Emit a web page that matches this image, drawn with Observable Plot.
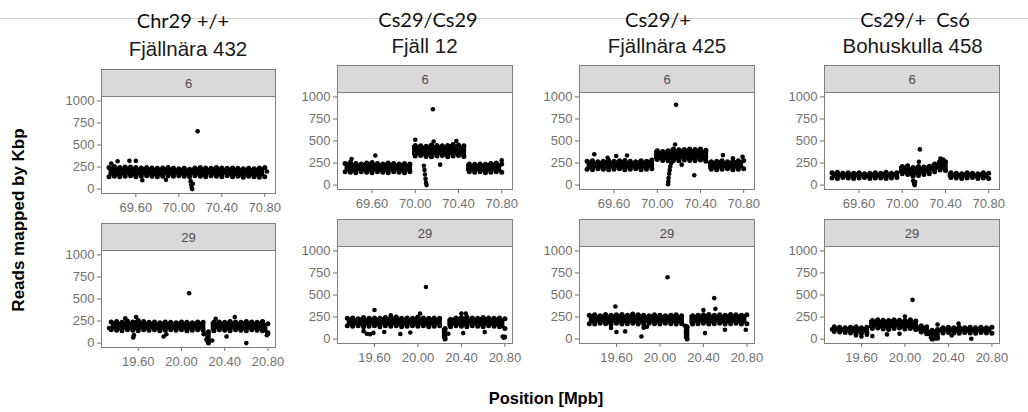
<!DOCTYPE html>
<html><head><meta charset="utf-8">
<script src="https://cdn.jsdelivr.net/npm/d3@7"></script>
<script src="https://cdn.jsdelivr.net/npm/@observablehq/plot@0.6"></script>
<style>
body{margin:0;background:#fff;}
#root{position:relative;width:1028px;height:412px;overflow:hidden;font-family:"Liberation Sans",Arial,sans-serif;background:#fff;}
.topline{position:absolute;left:0;top:18px;width:1028px;height:1px;background:#d0d0d0;}
.t1{position:absolute;font-family:Lato,"Open Sans",sans-serif;font-size:20px;line-height:20px;height:20px;text-align:center;width:240px;color:#111;white-space:pre;}
.t2{position:absolute;font-family:"Liberation Sans",Arial,sans-serif;font-size:20.5px;line-height:21px;height:21px;text-align:center;width:240px;color:#1a1a1a;white-space:pre;}
.strip{position:absolute;box-sizing:border-box;height:27px;background:#d9d9d9;border:1px solid #7f7f7f;border-bottom:none;font-size:13px;color:#4d4d4d;text-align:center;line-height:27px;}
.panel{position:absolute;}
.ylab{position:absolute;left:-111px;top:210px;width:260px;height:20px;line-height:20px;text-align:center;font-weight:bold;font-size:17px;transform:rotate(-90deg);color:#000;}
.xlab{position:absolute;left:396px;top:389px;width:300px;height:18px;line-height:18px;text-align:center;font-weight:bold;font-size:16.5px;color:#000;}
</style></head>
<body><div id="root"><div class="topline"></div></div>
<script>
// ---- data ----
const samplesLine1 = ["Chr29 +/+", "Cs29/Cs29", "Cs29/+", "Cs29/+  Cs6"];
const samplesLine2 = ["Fjällnära 432", "Fjäll 12", "Fjällnära 425", "Bohuskulla 458"];
const chromosomes = ["6", "29"];
const chr6Ticks = [69.6, 70.0, 70.4, 70.8];
const chr29Ticks = [19.6, 20.0, 20.4, 20.8];
const yTicks = [0, 250, 500, 750, 1000];

const chr6Pos = [69.35,69.40,69.45,69.50,69.55,69.60,69.65,69.70,69.75,69.80,69.85,69.90,69.95,70.00,70.05,70.10,70.15,70.20,70.25,70.30,70.35,70.40,70.45,70.50,70.55,70.60,70.65,70.70,70.75,70.80];
const chr29Pos = [19.35,19.40,19.45,19.50,19.55,19.60,19.65,19.70,19.75,19.80,19.85,19.90,19.95,20.00,20.05,20.10,20.15,20.20,20.25,20.30,20.35,20.40,20.45,20.50,20.55,20.60,20.65,20.70,20.75,20.80];

// Fjällnära 432, chr 6
const fj432_6_hi = [245,255,245,250,250,245,240,245,240,235,240,245,235,230,235,225,240,245,240,235,245,240,235,240,235,230,235,230,240,245];
const fj432_6_lo = [140,145,140,145,150,140,145,150,145,140,145,150,145,150,145,140,150,145,140,150,145,140,150,140,145,135,145,140,135,140];
const fj432_6_ox = [69.37,69.43,69.54,69.60,69.66,69.88,70.11,70.115,70.12,70.125,70.13,70.175,70.82];
const fj432_6_oy = [290,315,320,320,100,105,90,50,15,0,60,655,200];
// Fjäll 12, chr 6
const fj12_6_hi = [245,260,245,240,250,255,245,240,250,245,240,245,240,450,445,440,455,450,445,450,460,455,445,240,235,240,235,245,250,240];
const fj12_6_lo = [150,145,140,150,145,140,150,145,140,150,145,140,150,330,335,325,320,330,335,320,330,335,325,150,145,150,140,145,150,145];
const fj12_6_ox = [69.41,69.63,70.00,70.08,70.085,70.09,70.095,70.10,70.105,70.163,70.17,70.23,70.38,70.80];
const fj12_6_oy = [295,335,515,220,170,120,70,25,0,860,495,232,500,280];
// Fjällnära 425, chr 6
const fj425_6_hi = [270,275,265,270,280,270,275,280,270,265,275,270,285,390,380,390,410,400,405,410,405,410,395,265,270,275,265,270,275,280];
const fj425_6_lo = [180,175,185,180,175,180,185,175,180,185,175,180,185,290,280,275,280,275,285,280,275,285,270,180,175,180,185,175,180,185];
const fj425_6_ox = [69.417,69.54,69.62,69.72,70.10,70.102,70.105,70.11,70.115,70.12,70.13,70.165,70.174,70.226,70.342,70.608,70.70,70.79];
const fj425_6_oy = [350,310,330,335,10,40,80,130,170,210,250,460,910,232,112,340,305,320];
// Bohuskulla 458, chr 6
const boh458_6_hi = [140,145,135,140,135,140,130,135,140,135,145,135,140,210,220,200,210,205,215,240,270,265,140,135,130,140,135,130,140,135];
const boh458_6_lo = [80,75,85,80,75,80,85,75,80,80,75,80,85,130,120,100,110,120,130,150,170,165,85,80,75,80,85,75,80,75];
const boh458_6_ox = [70.10,70.11,70.115,70.12,70.154,70.163,70.354,70.38];
const boh458_6_oy = [50,15,0,35,265,405,300,290];

// Fjällnära 432, chr 29
const fj432_29_hi = [240,245,235,250,240,255,245,235,240,230,240,235,230,240,235,230,240,235,130,235,240,235,245,240,235,245,240,235,245,220];
const fj432_29_lo = [150,145,140,150,145,140,150,145,150,140,145,150,145,150,140,145,150,145,0,140,150,145,140,150,145,140,150,145,140,110];
const fj432_29_ox = [19.33,19.48,19.554,19.56,19.58,19.835,19.86,20.071,20.205,20.23,20.285,20.316,20.417,20.493,20.60,20.79,20.80];
const fj432_29_oy = [170,280,64,90,295,75,100,565,100,40,30,275,75,295,0,90,120];
// Fjäll 12, chr 29
const fj12_29_hi = [235,240,230,245,235,240,235,245,240,250,235,240,235,250,240,235,240,235,120,225,240,245,250,240,235,245,240,235,240,230];
const fj12_29_lo = [150,145,150,140,145,150,140,150,145,150,140,145,150,145,150,140,145,150,0,140,150,145,140,150,145,140,150,145,140,120];
const fj12_29_ox = [19.50,19.53,19.56,19.59,19.60,19.69,19.75,19.838,19.93,20.02,20.074,20.28,20.40,20.416,20.44,20.615,20.78,20.79,20.80];
const fj12_29_oy = [90,60,55,70,330,80,270,57,75,290,590,60,290,68,290,79,30,15,25];
// Fjällnära 425, chr 29
const fj425_29_hi = [270,275,265,280,270,275,280,270,285,275,270,265,275,270,265,270,275,265,140,265,270,275,280,270,275,270,280,275,270,275];
const fj425_29_lo = [175,170,180,175,165,180,170,175,180,170,175,180,175,170,180,175,170,175,0,170,175,180,170,175,180,170,175,180,170,175];
const fj425_29_ox = [19.55,19.59,19.60,19.68,19.83,19.85,19.88,20.07,20.23,20.24,20.40,20.415,20.50,20.51,20.598,20.79];
const fj425_29_oy = [125,370,80,87,30,130,140,702,150,80,330,68,464,343,106,106];
// Bohuskulla 458, chr 29
const boh458_29_hi = [140,135,130,135,140,130,135,210,220,215,210,220,215,210,220,205,150,140,100,110,130,135,130,135,130,135,130,135,130,135];
const boh458_29_lo = [85,80,75,70,60,65,70,120,125,115,110,120,125,115,120,110,80,60,0,10,70,75,70,65,75,70,65,75,70,65];
const boh458_29_ox = [19.33,19.55,19.60,19.65,19.70,19.835,19.95,20.00,20.07,20.22,20.24,20.26,20.28,20.30,20.43,20.493,20.61];
const boh458_29_oy = [110,40,30,50,34,53,60,255,445,60,20,0,10,165,40,175,4];

// ---- layout ----
const root = document.getElementById("root");
const colLeft = [101, 337, 579, 824];
const colWidth = [174, 175, 175, 175];
const frameTop = [[96, 250], [92, 246], [92, 246], [92, 246]];
const FH = 97, ML = 40, MR = 1, MB = 26;
const title1Center = [183, 428, 658, 915];
const title2Center = [188, 424.5, 667, 912.6];
const title1Top = [10, 9, 9, 9];
const title2Top = [38, 35, 35, 35];

const rows = [
  {pos: chr6Pos, ticks: chr6Ticks, domain: [69.28, 70.90], sets: [
    [fj432_6_hi, fj432_6_lo, fj432_6_ox, fj432_6_oy],
    [fj12_6_hi, fj12_6_lo, fj12_6_ox, fj12_6_oy],
    [fj425_6_hi, fj425_6_lo, fj425_6_ox, fj425_6_oy],
    [boh458_6_hi, boh458_6_lo, boh458_6_ox, boh458_6_oy]]},
  {pos: chr29Pos, ticks: chr29Ticks, domain: [19.26, 20.87], sets: [
    [fj432_29_hi, fj432_29_lo, fj432_29_ox, fj432_29_oy],
    [fj12_29_hi, fj12_29_lo, fj12_29_ox, fj12_29_oy],
    [fj425_29_hi, fj425_29_lo, fj425_29_ox, fj425_29_oy],
    [boh458_29_hi, boh458_29_lo, boh458_29_ox, boh458_29_oy]]}
];

function el(cls, css, text) {
  const d = document.createElement("div");
  d.className = cls;
  Object.assign(d.style, css);
  if (text != null) d.textContent = text;
  root.appendChild(d);
  return d;
}

for (let c = 0; c < 4; c++) {
  el("t1", {left: (title1Center[c] - 120) + "px", top: title1Top[c] + "px"}, samplesLine1[c]);
  el("t2", {left: (title2Center[c] - 120) + "px", top: title2Top[c] + "px"}, samplesLine2[c]);
}

rows.forEach((row, r) => {
  row.sets.forEach(([hi, lo, ox, oy], c) => {
    const band = row.pos.map((x, i) => ({x, hi: hi[i], lo: lo[i]}));
    const out = ox.map((x, i) => ({x, y: oy[i]}));
    const W = colWidth[c];
    const top = frameTop[c][r];
    el("strip", {left: colLeft[c] + "px", top: (top - 27) + "px", width: (W + 1) + "px"}, chromosomes[r]);
    const svg = Plot.plot({
      width: W + ML + MR, height: FH + MB,
      marginLeft: ML, marginRight: MR, marginTop: 0, marginBottom: MB,
      x: {domain: row.domain, ticks: row.ticks, tickFormat: d => d.toFixed(2), tickSize: 4, tickPadding: 5, label: null},
      y: {domain: [-50, 1050], ticks: yTicks, tickFormat: d => String(d), tickSize: 4, tickPadding: 3, label: null},
      style: {fontFamily: "'Liberation Sans', Arial, sans-serif", fontSize: "13px", color: "#707070", background: "transparent", overflow: "visible"},
      marks: [
        Plot.areaY(band, {x: "x", y1: "lo", y2: "hi", curve: "step", fill: "black"}),
        Plot.dot(band, {x: "x", y: "hi", r: 2.5, fill: "black"}),
        Plot.dot(band, {x: "x", y: "lo", r: 2.5, fill: "black"}),
        Plot.dot(out, {x: "x", y: "y", r: 2.3, fill: "black"}),
        Plot.frame({stroke: "#7f7f7f"})
      ]
    });
    svg.classList.add("panel");
    svg.style.left = (colLeft[c] - ML) + "px";
    svg.style.top = top + "px";
    svg.style.position = "absolute";
    root.appendChild(svg);
  });
});

el("ylab", {}, "Reads mapped by Kbp");
el("xlab", {}, "Position [Mpb]");
</script>
</body></html>
